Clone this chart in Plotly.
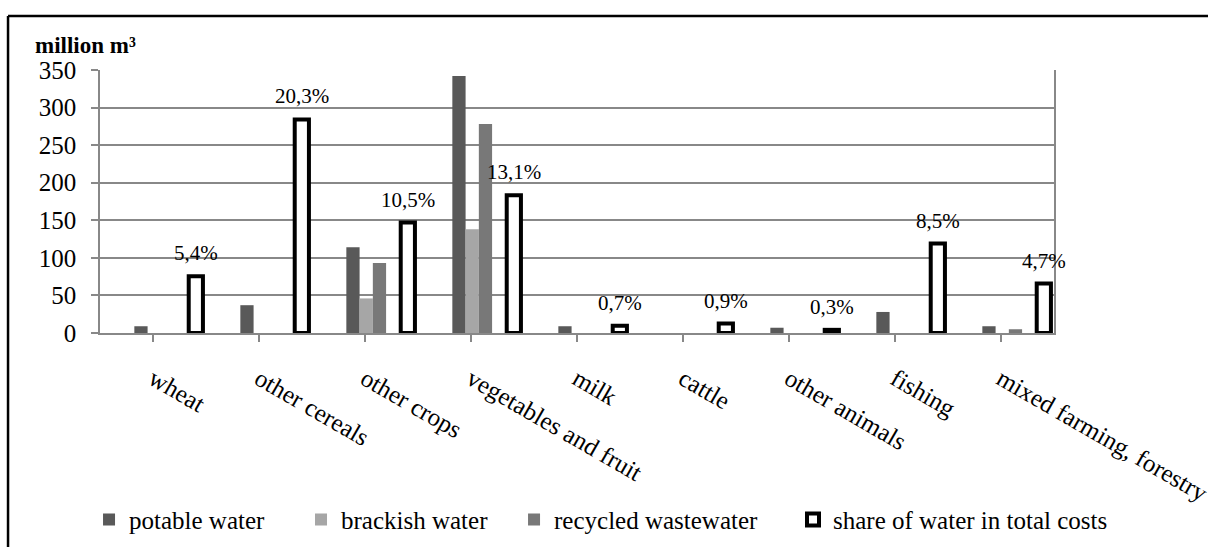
import plotly.graph_objects as go

categories = ["wheat", "other cereals", "other crops", "vegetables and fruit", "milk",
              "cattle", "other animals", "fishing", "mixed farming, forestry"]
potable = [9, 37, 114, 342, 9, 0, 7, 28, 9]
brackish = [0, 0, 46, 138, 0, 0, 0, 0, 0]
recycled = [0, 0, 93, 278, 0, 0, 0, 0, 5]
share_pct = [5.4, 20.3, 10.5, 13.1, 0.7, 0.9, 0.3, 8.5, 4.7]
y_ticks = [0, 50, 100, 150, 200, 250, 300, 350]

FONT = "Liberation Serif"
W_SMALL = 0.125
OFF = [-0.176, -0.051, 0.074]
SHARE_OFF, SHARE_W = 0.337, 0.134
xs = list(range(len(categories)))

fig = go.Figure()
series = [("potable water", potable, "#595959", OFF[0], "legend"),
          ("brackish water", brackish, "#a6a6a6", OFF[1], "legend2"),
          ("recycled wastewater", recycled, "#787878", OFF[2], "legend3")]
for name, vals, col, off, lg in series:
    fig.add_trace(go.Bar(x=xs, y=vals, name=name, marker=dict(color=col, line=dict(width=0)),
                         offset=off, width=W_SMALL, legend=lg))

fig.add_trace(go.Bar(x=xs, y=share_pct, name="share of water in total costs", yaxis="y2",
                     marker=dict(color="white", line=dict(color="black", width=4)),
                     offset=SHARE_OFF, width=SHARE_W, legend="legend4"))

for i, v in enumerate(share_pct):
    fig.add_annotation(x=i + SHARE_OFF + SHARE_W / 2, y=v, yref="y2", xref="x",
                       text=f"{v:.1f}%".replace(".", ","), showarrow=False,
                       yanchor="bottom", yshift=9,
                       font=dict(family=FONT, size=21, color="black"))

fig.add_annotation(xref="paper", yref="paper", x=-0.07, y=1.095, xanchor="left", yanchor="middle",
                   text="<b>million m³</b>", showarrow=False,
                   font=dict(family=FONT, size=23, color="black"))

# outer frame
fig.add_shape(type="line", xref="paper", yref="paper", x0=-0.0964, x1=1.3, y0=1.205, y1=1.205,
              line=dict(color="black", width=2.5))
fig.add_shape(type="line", xref="paper", yref="paper", x0=-0.0964, x1=-0.0964, y0=1.205, y1=-1.0,
              line=dict(color="black", width=2.5))

legend_font = dict(family=FONT, size=25, color="black")
leg_common = dict(orientation="h", xanchor="left", y=-0.71, yanchor="middle",
                  font=legend_font, bgcolor="rgba(0,0,0,0)")

fig.update_layout(
    width=1208, height=547,
    margin=dict(l=100, r=154, t=70, b=214, autoexpand=False),
    paper_bgcolor="white", plot_bgcolor="white",
    barmode="overlay",
    font=dict(family=FONT, color="black"),
    xaxis=dict(tickmode="array", tickvals=xs, ticktext=categories, range=[-0.5, len(categories) - 0.5],
               tickangle=30, tickfont=dict(family=FONT, size=25, color="black"),
               ticklabelstandoff=13, automargin=False, ticklabeloverflow="allow",
               showline=True, linecolor="#888888", linewidth=1.5,
               ticks="outside", ticklen=7, tickcolor="#888888", tickwidth=1.5,
               showgrid=False, zeroline=False, mirror=False),
    yaxis=dict(range=[0, 350], tickvals=y_ticks, tickfont=dict(family=FONT, size=25, color="black"),
               ticklabelstandoff=10, automargin=False,
               showline=True, linecolor="#888888", linewidth=1.5, mirror=True,
               ticks="outside", ticklen=7, tickcolor="#888888", tickwidth=1.5,
               showgrid=True, gridcolor="#888888", gridwidth=1.5, zeroline=False),
    yaxis2=dict(range=[0, 25], overlaying="y", side="right", visible=False),
    showlegend=True,
    legend=dict(x=-0.0115, **leg_common),
    legend2=dict(x=0.2107, **leg_common),
    legend3=dict(x=0.434, **leg_common),
    legend4=dict(x=0.7264, **leg_common),
)

fig.write_html("out.html", config={"displayModeBar": False},
               post_script="document.body.style.margin='0';")
